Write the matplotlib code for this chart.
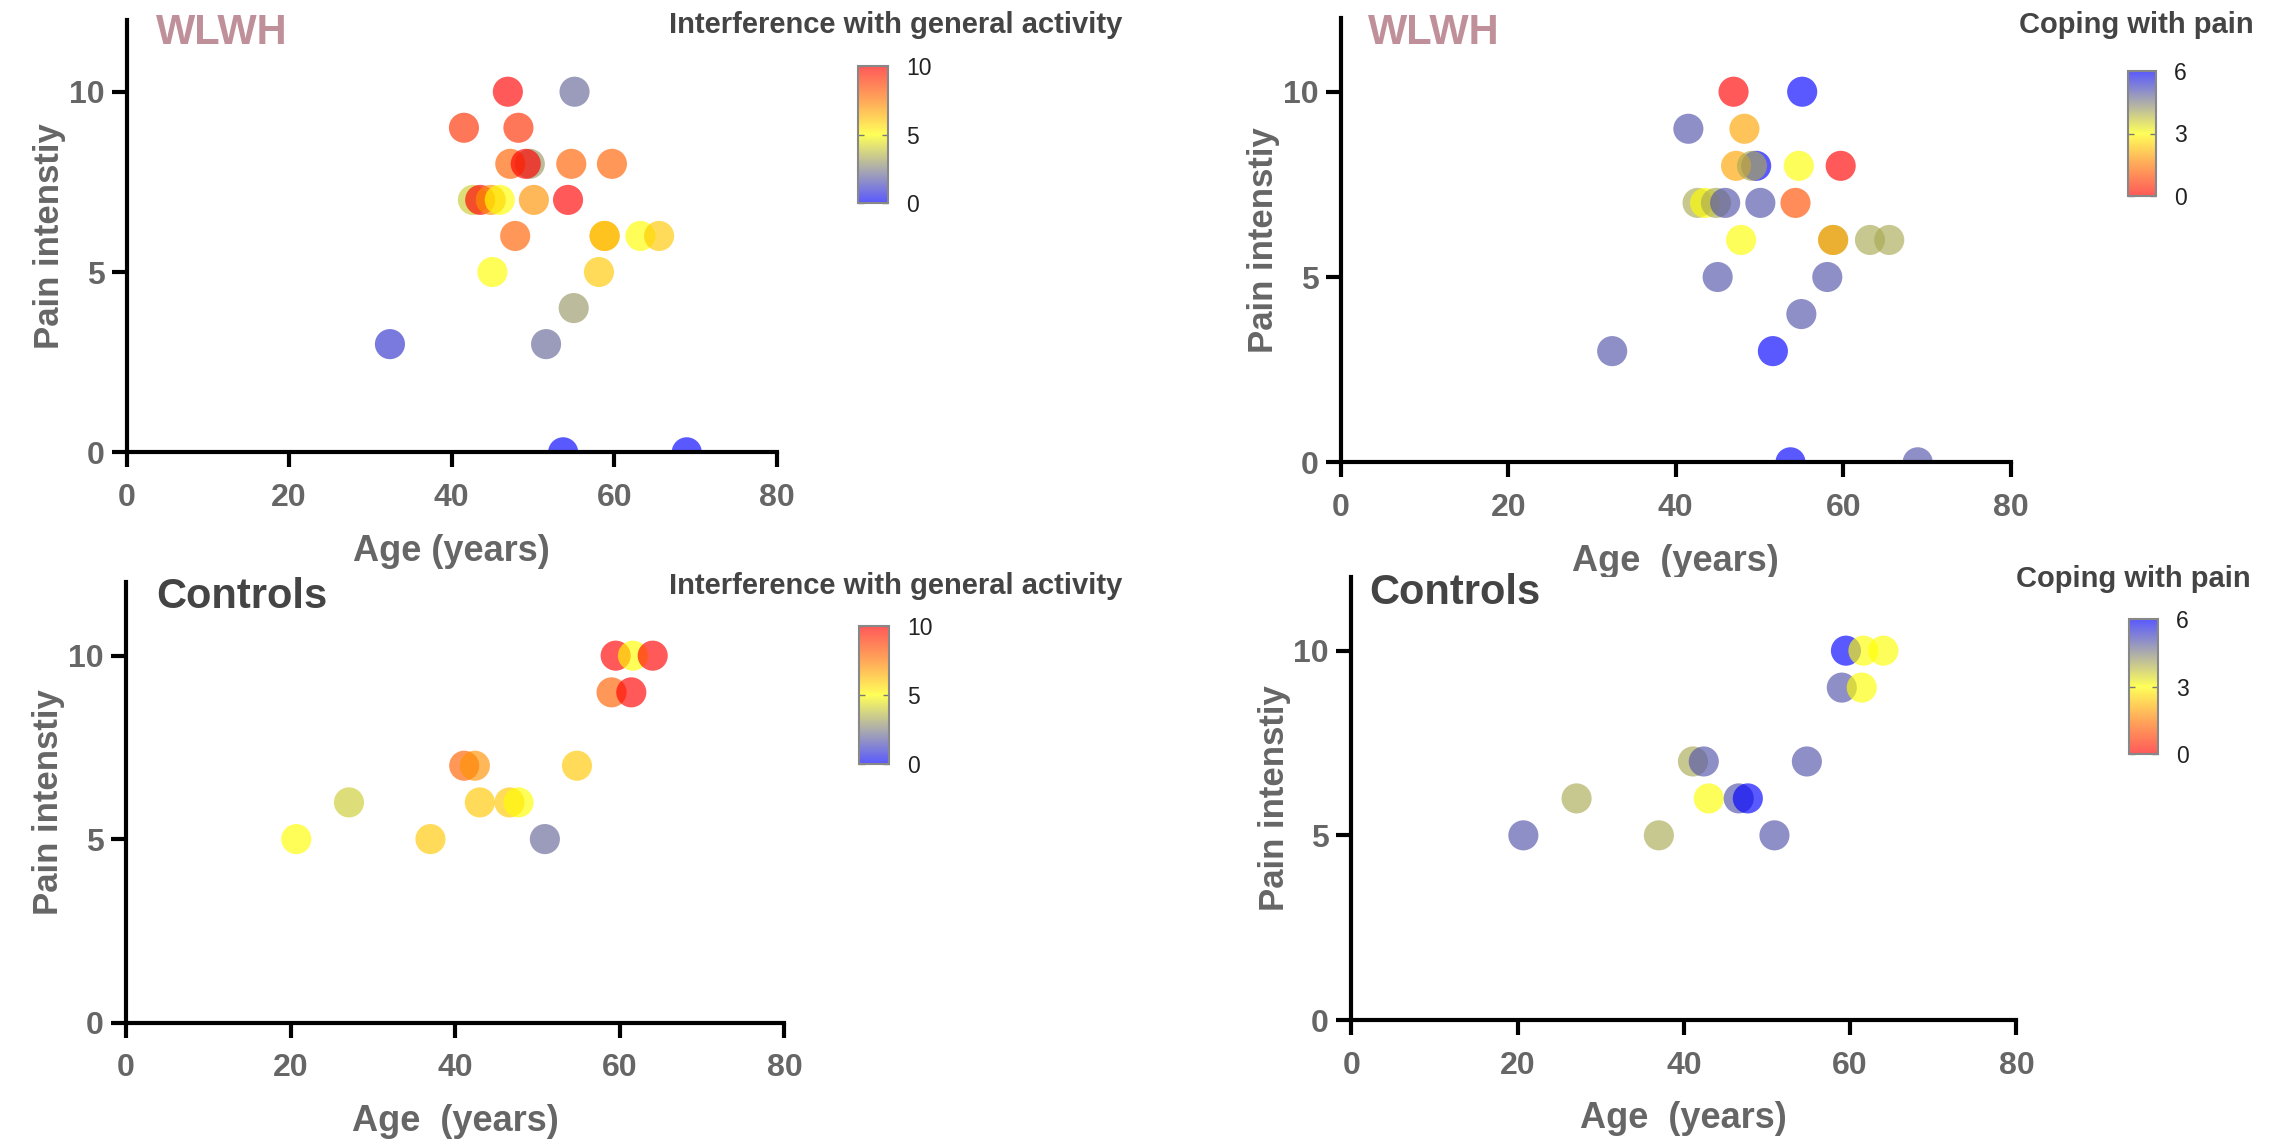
import matplotlib
matplotlib.use("Agg")
import matplotlib.pyplot as plt
from matplotlib.colors import LinearSegmentedColormap, Normalize

plt.rcParams['font.family'] = ['Liberation Sans', 'DejaVu Sans']

# WLWH participants: age, pain intensity, interference (0-10), coping (0-6)
wlwh_age = [46.9, 55.1, 41.5, 48.2, 49.6, 47.2, 49.1, 54.7, 59.7,
            42.6, 43.5, 44.8, 45.9, 50.1, 54.3,
            47.8, 58.8, 58.8, 63.2, 65.5,
            45.0, 58.1, 55.0, 51.6, 32.4, 53.7, 68.9]
wlwh_pain = [10, 10, 9, 9, 8, 8, 8, 8, 8,
             7, 7, 7, 7, 7, 7,
             6, 6, 6, 6, 6,
             5, 5, 4, 3, 3, 0, 0]
wlwh_interference = [10, 2, 9, 9, 3, 8, 10, 8, 8,
                     4, 10, 7, 5, 7, 10,
                     8, 7, 6, 5, 6,
                     5, 6, 3, 2, 1, 0, 0]
wlwh_coping = [0, 6, 5, 2, 6, 2, 4, 3, 0,
               4, 3, 4, 5, 5, 1,
               3, 4, 2, 4, 4,
               5, 5, 5, 6, 5, 6, 5]

# Controls
ctrl_age = [59.5, 61.6, 64.0, 59.0, 61.4, 41.1, 42.4, 54.8,
            27.1, 43.0, 46.6, 47.7, 20.7, 37.0, 50.9]
ctrl_pain = [10, 10, 10, 9, 9, 7, 7, 7, 6, 6, 6, 6, 5, 5, 5]
ctrl_interference = [10, 5, 10, 8, 10, 8, 7, 6, 4, 6, 6, 5, 5, 6, 2]
ctrl_coping = [6, 3, 3, 5, 3, 4, 5, 5, 4, 3, 5, 6, 5, 4, 5]

x_ticks = [0, 20, 40, 60, 80]
y_ticks = [0, 5, 10]

W, H = 2282, 1140
fig = plt.figure(figsize=(W / 100, H / 100), dpi=100)

# colour scales (blue - grey - yellow - orange - red)
interf_cmap = LinearSegmentedColormap.from_list(
    'interf', [(0.0, '#0000ff'), (0.25, '#808080'), (0.5, '#ffff00'),
               (0.75, '#ff7800'), (1.0, '#ff0000')])
coping_cmap = LinearSegmentedColormap.from_list(
    'coping', [(0.0, '#ff0000'), (0.25, '#ff7800'), (0.5, '#ffff00'),
               (0.75, '#808080'), (1.0, '#0000ff')])

GRAY = '#666666'
DARK = '#444444'


def px_box(x0, y_top, x1, y_bot):
    return [x0 / W, 1 - y_bot / H, (x1 - x0) / W, (y_bot - y_top) / H]


def panel(box, age, pain, cval, cmap, vmax, xlabel):
    ax = fig.add_axes(box)
    sc = ax.scatter(age, pain, c=cval, cmap=cmap, norm=Normalize(0, vmax),
                    s=470, alpha=0.65, linewidths=0)
    ax.set_xlim(0, 80)
    ax.set_ylim(0, 12)
    ax.set_xticks(x_ticks)
    ax.set_yticks(y_ticks)
    for side in ['top', 'right']:
        ax.spines[side].set_visible(False)
    for side in ['left', 'bottom']:
        ax.spines[side].set_linewidth(3)
        ax.spines[side].set_color('black')
    ax.tick_params(length=11, width=3, color='black', labelsize=23,
                   labelcolor=GRAY)
    ax.tick_params(axis='x', pad=11)
    ax.tick_params(axis='y', pad=5)
    for lab in ax.get_xticklabels() + ax.get_yticklabels():
        lab.set_fontweight('bold')
    ax.set_xlabel(xlabel, fontsize=26, fontweight='bold', color=GRAY, labelpad=15)
    ax.set_ylabel('Pain intenstiy', fontsize=25, fontweight='bold', color=GRAY, labelpad=2)
    return sc


def colorbar(sc, box, ticks, title, tx, ty):
    cax = fig.add_axes(box)
    cb = fig.colorbar(sc, cax=cax, ticks=ticks)
    cb.outline.set_edgecolor('#888888')
    cb.outline.set_linewidth(1.5)
    cax.tick_params(direction='in', length=4, width=1, color='#777777',
                    left=True, right=True, labelsize=16.5, labelcolor='#222222', pad=13)
    fig.text(tx / W, 1 - ty / H, title, ha='center', va='baseline',
             fontsize=21, fontweight='bold', color=DARK)


# top left: WLWH, interference
sc = panel(px_box(126.5, 19.6, 777, 452.3), wlwh_age, wlwh_pain,
           wlwh_interference, interf_cmap, 10, 'Age (years)')
colorbar(sc, px_box(858, 66, 888, 203), [0, 5, 10],
         'Interference with general activity', 896, 33)
fig.text(156 / W, 1 - 43.7 / H, 'WLWH', fontsize=30, fontweight='bold', color='#c0909a')

# top right: WLWH, coping
sc = panel(px_box(1341, 17.6, 2010.6, 462.3), wlwh_age, wlwh_pain,
           wlwh_coping, coping_cmap, 6, 'Age  (years)')
colorbar(sc, px_box(2128, 71, 2156, 196), [0, 3, 6], 'Coping with pain', 2136, 33)
fig.text(1368 / W, 1 - 43.7 / H, 'WLWH', fontsize=30, fontweight='bold', color='#c0909a')

# bottom left: controls, interference
sc = panel(px_box(125.9, 582.3, 784.4, 1022.5), ctrl_age, ctrl_pain,
           ctrl_interference, interf_cmap, 10, 'Age  (years)')
colorbar(sc, px_box(859, 626, 889, 764), [0, 5, 10],
         'Interference with general activity', 896, 594)
fig.text(156 / W, 1 - 608 / H, 'Controls', fontsize=30, fontweight='bold', color=DARK)

# bottom right: controls, coping
sc = panel(px_box(1351.25, 576.8, 2016.4, 1020), ctrl_age, ctrl_pain,
           ctrl_coping, coping_cmap, 6, 'Age  (years)')
colorbar(sc, px_box(2129, 619, 2158, 754), [0, 3, 6], 'Coping with pain', 2133, 587)
fig.text(1369 / W, 1 - 604 / H, 'Controls', fontsize=30, fontweight='bold', color=DARK)

fig.savefig('out.png', dpi=100)
